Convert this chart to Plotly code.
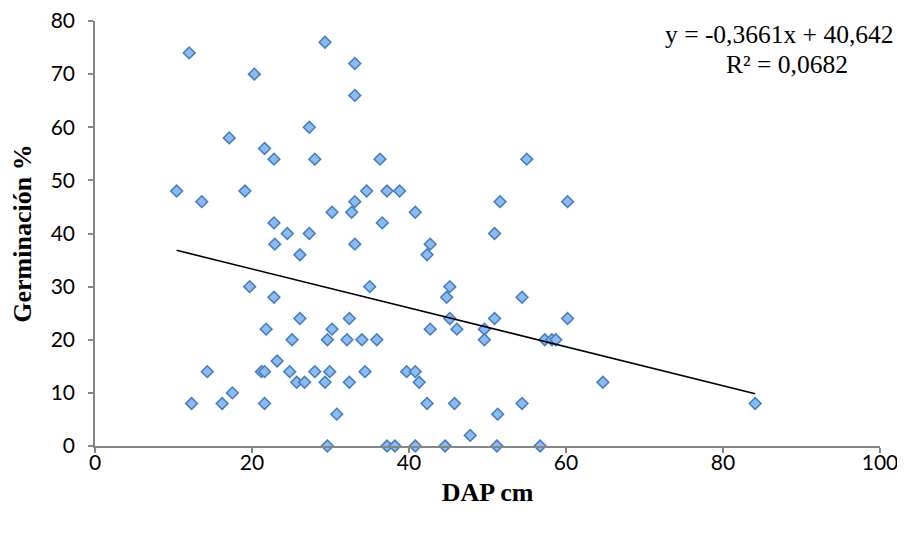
import plotly.graph_objects as go

dap = [10.4, 12.0, 12.3, 13.6, 14.3, 16.2, 17.1, 17.5, 19.1, 19.7, 20.3, 21.2, 21.6, 21.6, 21.6,
       21.8, 22.8, 22.8, 22.9, 22.8, 23.2, 24.5, 24.8, 25.1, 25.7, 26.1, 26.1, 26.7, 27.3, 27.3,
       28.0, 28.0, 29.3, 29.3, 29.6, 29.6, 29.9, 30.2, 30.2, 30.8, 32.1, 32.4, 32.4, 32.7, 33.1,
       33.1, 33.1, 33.1, 34.0, 34.4, 34.6, 35.0, 35.9, 36.3, 36.6, 37.2, 37.2, 38.2, 38.8, 39.7,
       40.8, 40.8, 40.8, 41.3, 42.3, 42.3, 42.7, 42.7, 44.6, 44.8, 45.2, 45.2, 45.8, 46.1, 47.8,
       49.6, 49.6, 50.9, 50.9, 51.3, 51.2, 51.6, 54.4, 54.4, 55.0, 56.7, 57.3, 58.2, 58.7, 60.2,
       60.2, 64.7, 84.1]
germ = [48, 74, 8, 46, 14, 8, 58, 10, 48, 30, 70, 14, 14, 56, 8,
        22, 54, 42, 38, 28, 16, 40, 14, 20, 12, 36, 24, 12, 60, 40,
        54, 14, 76, 12, 20, 0, 14, 44, 22, 6, 20, 24, 12, 44, 72,
        66, 46, 38, 20, 14, 48, 30, 20, 54, 42, 48, 0, 0, 48, 14,
        44, 14, 0, 12, 36, 8, 38, 22, 0, 28, 30, 24, 8, 22, 2,
        22, 20, 40, 24, 6, 0, 46, 28, 8, 54, 0, 20, 20, 20, 46,
        24, 12, 8]

slope = -0.3661
intercept = 40.642
trend_x = [min(dap), max(dap)]
trend_y = [slope * v + intercept for v in trend_x]

x_ticks = [0, 20, 40, 60, 80, 100]
y_ticks = [0, 10, 20, 30, 40, 50, 60, 70, 80]

serif = "Liberation Serif, Times New Roman, serif"

fig = go.Figure()
fig.add_trace(go.Scatter(
    x=dap, y=germ, mode="markers",
    marker=dict(symbol="diamond", size=9, color="#89BCF5",
                line=dict(color="#4A7EBB", width=1.6)),
    showlegend=False, cliponaxis=False))
fig.add_trace(go.Scatter(
    x=trend_x, y=trend_y, mode="lines",
    line=dict(color="black", width=1.6), showlegend=False))

axis_common = dict(showgrid=False, zeroline=False, showline=True, automargin=False,
                   linecolor="#868686", linewidth=1.5, ticks="outside",
                   ticklen=5, tickcolor="#868686", tickwidth=1.5,
                   ticklabeloverflow="allow",
                   tickfont=dict(family="Lato, Carlito, sans-serif", size=21, color="black"))

fig.update_xaxes(range=[0, 100], tickvals=x_ticks, ticklabelstandoff=-8, **axis_common,
                 title=dict(text="<b>DAP cm</b>", standoff=10,
                            font=dict(family=serif, size=26, color="black")))
fig.update_yaxes(range=[0, 80], tickvals=y_ticks, ticklabelstandoff=9, **axis_common,
                 title=dict(text="<b>Germinación %</b>", standoff=19,
                            font=dict(family=serif, size=26, color="black")))

fig.add_annotation(xref="paper", yref="paper", x=0.8726, y=0.968,
                   text="y = -0,3661x + 40,642", showarrow=False,
                   xanchor="center", yanchor="middle",
                   font=dict(family=serif, size=25.5, color="black"))
fig.add_annotation(xref="paper", yref="paper", x=0.8815, y=0.898,
                   text="R² = 0,0682", showarrow=False,
                   xanchor="center", yanchor="middle",
                   font=dict(family=serif, size=25.5, color="black"))

fig.update_layout(width=897, height=525, paper_bgcolor="white", plot_bgcolor="white",
                  margin=dict(l=87, r=25, t=13, b=87))

fig.write_html("out.html")
